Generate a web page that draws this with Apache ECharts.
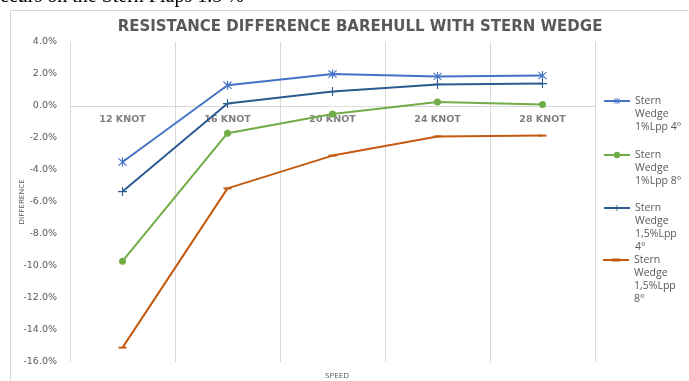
<!DOCTYPE html>
<html>
<head>
<meta charset="utf-8">
<script src="https://cdn.jsdelivr.net/npm/echarts@6/dist/echarts.min.js"></script>
<style>
  html, body { margin: 0; padding: 0; background: #fff; }
  #chart { width: 689px; height: 381px; }
</style>
</head>
<body>
<div id="chart"></div>
<script>
// Speeds on the category axis
const speeds = ['12 KNOT', '16 KNOT', '20 KNOT', '24 KNOT', '28 KNOT'];

// Resistance difference vs. bare hull, in percent
const wedge1pct4deg = [-3.5, 1.3, 2.0, 1.85, 1.9];
const wedge1pct8deg = [-9.7, -1.7, -0.5, 0.25, 0.1];
const wedge15pct4deg = [-5.35, 0.15, 0.9, 1.35, 1.4];
const wedge15pct8deg = [-15.1, -5.15, -3.1, -1.9, -1.85];

// Legend entries (wrapped the way they appear in the key)
const seriesNames = [
  'Stern\nWedge\n1%Lpp 4°',
  'Stern\nWedge\n1%Lpp 8°',
  'Stern\nWedge\n1,5%Lpp\n4°',
  'Stern\nWedge\n1,5%Lpp\n8°'
];

// Y axis range and step (percent)
const yMin = -16, yMax = 4, yStep = 2;

const colors = ['#4472C4', '#70AD47', '#2B5C8F', '#C55A11'];
const FONT = 'Open Sans';
const WIDE = 'DejaVu Sans';
const GREY = '#595959';

// Plot box
const GRID_TOP = 42, GRID_BOTTOM = 19, PLOT_H = 381 - GRID_TOP - GRID_BOTTOM;
// Category axis sits on the zero line
const zeroOffset = -PLOT_H * (0 - yMin) / (yMax - yMin);

// Marker shapes
const asteriskPath = 'path://M4.4 0L5.6 0L5.6 10L4.4 10Z M0.6 1.4L1.4 0.6L9.4 8.6L8.6 9.4Z M8.6 0.6L9.4 1.4L1.4 9.4L0.6 8.6Z';
const plusPath = 'path://M4.4 0L5.6 0L5.6 10L4.4 10Z M0 4.4L10 4.4L10 5.6L0 5.6Z';
const dashPath = 'path://M0 0L10 0L10 2.5L0 2.5Z';
// Key icon for the dash-marker series: thin line with a short thick dash in the middle
const dashLineIcon = 'path://M0 3.1L26 3.1L26 4.9L0 4.9Z M9 2.5L17 2.5L17 5.5L9 5.5Z';

// Each key entry gets its own legend so the icon lines up with the first text line:
// the text block is vertically centred on the icon, so blank lines are added above.
const LINE_H = 13;
function legendFor(i, iconY, icon) {
  const lines = seriesNames[i].split('\n').length;
  const half = (2 * lines - 1) * LINE_H / 2;
  const item = icon ? { name: seriesNames[i], icon: icon } : seriesNames[i];
  return {
    data: [item],
    orient: 'vertical',
    left: 603,
    top: iconY - half,
    padding: 0,
    itemWidth: 26,
    itemHeight: 8,
    itemGap: 0,
    selectedMode: false,
    formatter: name => '\n'.repeat(lines - 1) + name,
    textStyle: {
      fontFamily: FONT,
      fontSize: 10.5,
      color: GREY,
      lineHeight: LINE_H
    }
  };
}

const chart = echarts.init(document.getElementById('chart'), null, { renderer: 'canvas' });

chart.setOption({
  backgroundColor: '#ffffff',
  animation: false,
  color: colors,
  title: [
    {
      text: 'RESISTANCE DIFFERENCE BAREHULL WITH STERN WEDGE',
      left: 355,
      textAlign: 'center',
      top: 15,
      textStyle: { fontFamily: WIDE, fontSize: 15, fontWeight: 'bold', color: GREY }
    },
    {
      text: 'SPEED',
      left: 332,
      textAlign: 'center',
      top: 367,
      textStyle: { fontFamily: FONT, fontSize: 8, fontWeight: 'normal', color: GREY }
    }
  ],
  graphic: [
    {
      type: 'text',
      left: -10,
      top: -13,
      style: { text: 'occurs on the Stern Flaps 1.5 %', font: '20px "Liberation Serif"', fill: '#000' },
      silent: true
    },
    {
      type: 'rect',
      shape: { x: 10.5, y: 10.5, width: 700, height: 400 },
      style: { fill: 'none', stroke: '#d9d9d9', lineWidth: 1 },
      silent: true
    }
  ],
  legend: [
    legendFor(0, 101),
    legendFor(1, 155),
    legendFor(2, 208),
    legendFor(3, 260, dashLineIcon)
  ],
  grid: {
    left: 70, right: 94, top: GRID_TOP, bottom: GRID_BOTTOM,
    containLabel: false,
    outerBoundsMode: 'none'
  },
  xAxis: {
    type: 'category',
    data: speeds,
    boundaryGap: true,
    position: 'bottom',
    offset: zeroOffset,
    axisLine: { show: true, onZero: false, lineStyle: { color: '#d9d9d9', width: 1 } },
    axisTick: { show: false },
    axisLabel: { margin: 9, fontFamily: WIDE, fontSize: 9.5, fontWeight: 'bold', color: '#808080' },
    splitLine: { show: true, lineStyle: { color: '#d9d9d9', width: 1 } }
  },
  yAxis: {
    type: 'value',
    min: yMin,
    max: yMax,
    interval: yStep,
    name: 'DIFFERENCE',
    nameLocation: 'middle',
    nameRotate: 90,
    nameGap: 44,
    nameMoveOverlap: false,
    nameTextStyle: { fontFamily: FONT, fontSize: 8, color: GREY },
    axisLine: { show: false },
    axisTick: { show: false },
    splitLine: { show: false },
    axisLabel: {
      margin: 13,
      padding: [4, 0, 0, 0],
      fontFamily: WIDE,
      fontSize: 9.5,
      color: GREY,
      formatter: v => v.toFixed(1) + '%'
    }
  },
  series: [
    {
      name: seriesNames[0], type: 'line', data: wedge1pct4deg,
      symbol: asteriskPath, symbolSize: 9,
      lineStyle: { width: 2, color: colors[0] }, itemStyle: { color: colors[0] }
    },
    {
      name: seriesNames[1], type: 'line', data: wedge1pct8deg,
      symbol: 'circle', symbolSize: 7,
      lineStyle: { width: 2, color: colors[1] }, itemStyle: { color: colors[1] }
    },
    {
      name: seriesNames[2], type: 'line', data: wedge15pct4deg,
      symbol: plusPath, symbolSize: 9,
      lineStyle: { width: 2, color: colors[2] }, itemStyle: { color: colors[2] }
    },
    {
      name: seriesNames[3], type: 'line', data: wedge15pct8deg,
      symbol: dashPath, symbolSize: 8, symbolKeepAspect: true,
      lineStyle: { width: 2, color: colors[3] }, itemStyle: { color: colors[3] }
    }
  ]
});
</script>
</body>
</html>
